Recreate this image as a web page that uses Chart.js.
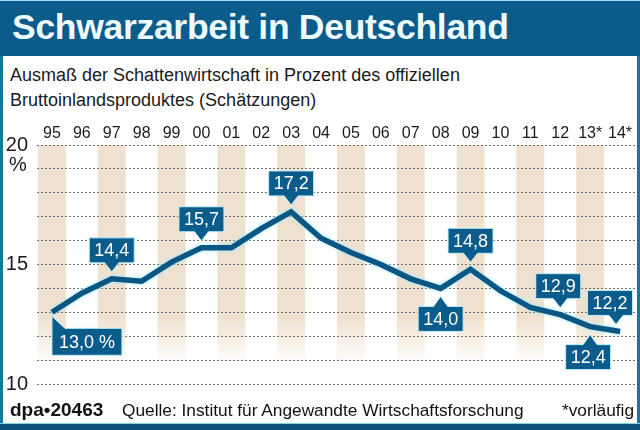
<!DOCTYPE html>
<html>
<head>
<meta charset="utf-8">
<script src="https://cdn.jsdelivr.net/npm/chart.js@4"></script>
<style>
  html, body { margin: 0; padding: 0; background: #ffffff; }
  #frame { position: relative; width: 640px; height: 430px; overflow: hidden; background: #fff;
           font-family: "Liberation Sans", Arial, sans-serif; color: #1a1a1a; }
  #bar { position: absolute; left: 0; top: 0; width: 640px; height: 56px; background: #0b5b8b;
         border-top: 1px solid #9fe3f0; box-sizing: border-box; }
  #title { position: absolute; left: 12px; top: 6px; font-size: 35.5px; font-weight: bold; color: #effcff;
           white-space: nowrap; letter-spacing: -0.3px; }
  #sub { position: absolute; left: 10px; top: 63px; font-size: 18px; line-height: 25px; color: #1a1a1a; white-space: nowrap; }
  #chartbox { position: absolute; left: 0; top: 110px; width: 640px; height: 295px; }
  #foot1 { position: absolute; left: 10px; top: 399px; font-size: 19px; font-weight: bold; color: #111; }
  #foot2 { position: absolute; left: 122px; top: 400px; font-size: 17.3px; color: #111; white-space: nowrap; }
  #foot3 { position: absolute; right: 6px; top: 400px; font-size: 17.3px; color: #111; }
  #lb { position: absolute; left: 0; top: 56px; width: 3px; height: 374px; background: #16779a; }
  #rb { position: absolute; right: 0; top: 56px; width: 3px; height: 374px; background: #16779a; }
  #bb { position: absolute; left: 0; bottom: 0; width: 640px; height: 7px; background: #0b4f7c; border-top: 1px solid #7fd3e6; box-sizing: border-box; }
</style>
</head>
<body>
<div id="frame">
  <div id="bar"><div id="title">Schwarzarbeit in Deutschland</div></div>
  <div id="sub">Ausmaß der Schattenwirtschaft in Prozent des offiziellen<br>Bruttoinlandsproduktes (Schätzungen)</div>
  <div id="chartbox"><canvas id="c" width="640" height="295"></canvas></div>
  <div id="foot1">dpa•20463</div>
  <div id="foot2">Quelle: Institut für Angewandte Wirtschaftsforschung</div>
  <div id="foot3">*vorläufig</div>
  <div id="lb"></div><div id="rb"></div><div id="bb"></div>
</div>
<script>
// ---- data ----
const years = ["95","96","97","98","99","00","01","02","03","04","05","06","07","08","09","10","11","12","13*","14*"];
const shadowEconomy = [13.0, 13.8, 14.4, 14.3, 15.1, 15.7, 15.7, 16.5, 17.2, 16.1, 15.5, 15.0, 14.4, 14.0, 14.8, 13.9, 13.2, 12.9, 12.4, 12.2];
const yTickLabels = [10, 15, 20];
const yGridValues = [10, 11, 12, 13, 14, 15, 16, 17, 18, 19, 20];
const labelledYears = ["95","97","00","03","08","09","12","13*","14*"];

// ---- styles ----
const DARK = '#0b5b8b';
const callStyle = {
  "95":  {dir: 'firstDown'},
  "97":  {dir: 'up'},
  "00":  {dir: 'up'},
  "03":  {dir: 'up'},
  "08":  {dir: 'down'},
  "09":  {dir: 'up'},
  "12":  {dir: 'up', dx: -2},
  "13*": {dir: 'down', dx: -2},
  "14*": {dir: 'up', dx: -10, tipDx: -4}
};

const fmt = v => v.toFixed(1).replace('.', ',');

const stripes = {
  id: 'stripes',
  beforeDraw(chart) {
    const {ctx, scales} = chart;
    const x = scales.x, y = scales.y;
    const top = y.getPixelForValue(20), bot = y.getPixelForValue(10.8);
    const g = ctx.createLinearGradient(0, top, 0, bot);
    g.addColorStop(0, '#efe1cf');
    g.addColorStop(0.78, '#efe1cf');
    g.addColorStop(1, 'rgba(239,225,207,0)');
    ctx.save();
    ctx.fillStyle = g;
    const w = x.getPixelForValue(1) - x.getPixelForValue(0);
    years.forEach((lab, i) => {
      if (i % 2 === 0) {
        const cx = x.getPixelForValue(i);
        ctx.fillRect(cx - w / 2 + 1, top, w - 2, bot - top);
      }
    });
    ctx.restore();
  }
};

const halo = {
  id: 'halo',
  beforeDatasetDraw(chart) {
    const ctx = chart.ctx;
    ctx.save();
    ctx.shadowColor = 'rgba(160,235,255,1)';
    ctx.shadowBlur = 4;
  },
  afterDatasetDraw(chart) { chart.ctx.restore(); }
};

const extras = {
  id: 'extras',
  afterDraw(chart) {
    const {ctx, scales} = chart;
    const x = scales.x, y = scales.y;
    ctx.save();
    ctx.fillStyle = '#1a1a1a';
    ctx.font = '20px "Liberation Sans", Arial, sans-serif';
    ctx.textAlign = 'center';
    ctx.textBaseline = 'middle';
    ctx.fillText('%', 18, y.getPixelForValue(20) + 20);

    ctx.font = '18px "Liberation Sans", Arial, sans-serif';
    labelledYears.forEach(lab => {
      const i = years.indexOf(lab);
      const v = shadowEconomy[i];
      const st = callStyle[lab] || {dir: 'up'};
      const px = x.getPixelForValue(i), py = y.getPixelForValue(v);
      const text = i === 0 ? fmt(v) + ' %' : fmt(v);
      const tw = ctx.measureText(text).width;
      const bw = Math.round(tw + 10), bh = 25;
      const dx = st.dx || 0, tipDx = st.tipDx || 0;
      let bx, by;
      ctx.fillStyle = DARK;
      ctx.strokeStyle = '#bff0fa';
      ctx.lineWidth = 1;
      ctx.beginPath();
      if (st.dir === 'up') {
        bx = px + dx - bw / 2; by = py - 16 - bh;
        const tx = px + tipDx;
        ctx.moveTo(bx, by); ctx.lineTo(bx + bw, by); ctx.lineTo(bx + bw, by + bh);
        ctx.lineTo(tx + 7, by + bh); ctx.lineTo(tx, py - 7); ctx.lineTo(tx - 7, by + bh);
        ctx.lineTo(bx, by + bh); ctx.closePath();
      } else if (st.dir === 'down') {
        bx = px + dx - bw / 2; by = py + 18;
        const tx = px + tipDx;
        ctx.moveTo(bx, by); ctx.lineTo(tx - 7, by); ctx.lineTo(tx, py + 8); ctx.lineTo(tx + 7, by);
        ctx.lineTo(bx + bw, by); ctx.lineTo(bx + bw, by + bh); ctx.lineTo(bx, by + bh); ctx.closePath();
      } else {
        bx = px; by = py + 16;
        ctx.moveTo(px, py + 4); ctx.lineTo(px + 13, by); ctx.lineTo(bx + bw + 4, by);
        ctx.lineTo(bx + bw + 4, by + bh + 2); ctx.lineTo(bx, by + bh + 2); ctx.closePath();
      }
      ctx.fill();
      ctx.stroke();
      ctx.fillStyle = '#ffffff';
      ctx.textAlign = 'center';
      ctx.textBaseline = 'middle';
      const cx = st.dir === 'firstDown' ? bx + (bw + 4) / 2 : bx + bw / 2;
      const cy = st.dir === 'firstDown' ? by + (bh + 2) / 2 + 1 : by + bh / 2 + 1;
      ctx.fillText(text, cx, cy);
    });
    ctx.restore();
  }
};

new Chart(document.getElementById('c'), {
  type: 'line',
  data: {
    labels: years,
    datasets: [{
      label: 'Schattenwirtschaft in % des BIP',
      data: shadowEconomy,
      borderColor: '#0b5783',
      borderWidth: 5.5,
      pointRadius: 0,
      tension: 0,
      fill: false,
      borderJoinStyle: 'miter'
    }]
  },
  options: {
    responsive: false,
    animation: false,
    events: [],
    layout: { padding: { top: 0, right: 5, bottom: 19, left: 0 } },
    plugins: { legend: { display: false }, tooltip: { enabled: false } },
    scales: {
      x: {
        position: 'top',
        offset: true,
        grid: { display: false, drawTicks: false },
        border: { display: false },
        ticks: { color: '#1a1a1a', font: { size: 16, family: '"Liberation Sans", Arial, sans-serif' },
                 padding: 2, maxRotation: 0, autoSkip: false },
        afterFit(s) { s.height = 35; }
      },
      y: {
        min: 10, max: 20,
        grid: { color: '#6f6f6f', lineWidth: 1, drawTicks: false },
        border: { display: false, dash: [2, 2] },
        ticks: { color: '#1a1a1a', padding: 9, autoSkip: false,
                 font: { size: 20, family: '"Liberation Sans", Arial, sans-serif' },
                 callback: v => yTickLabels.includes(v) ? String(v) : '' },
        afterBuildTicks(s) { s.ticks = yGridValues.map(v => ({ value: v })); },
        afterFit(s) { s.width = 37; }
      }
    }
  },
  plugins: [stripes, halo, extras]
});
</script>
</body>
</html>
